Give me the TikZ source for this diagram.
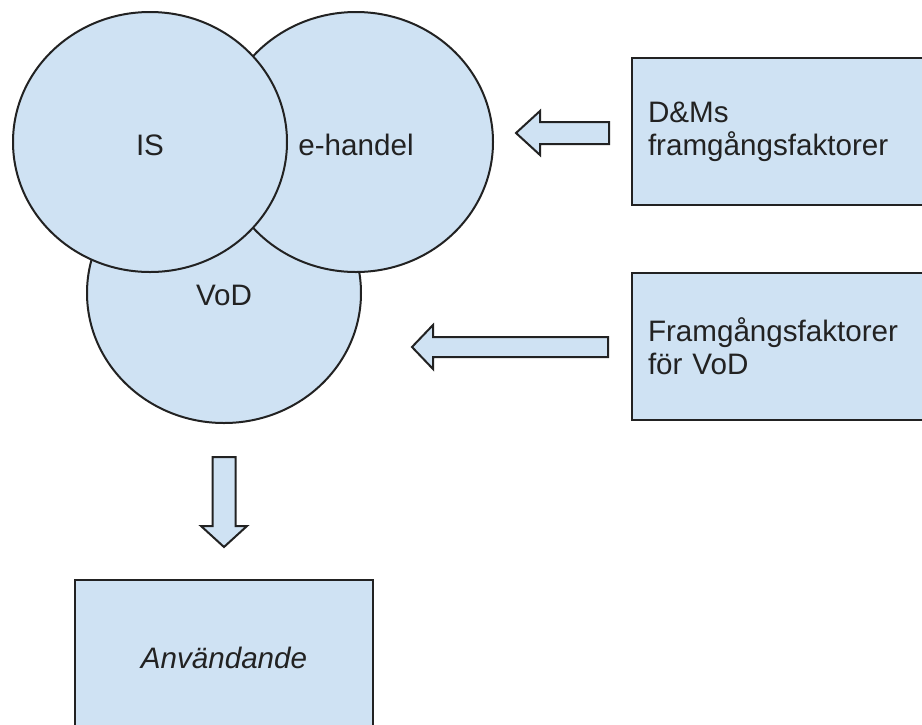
\documentclass[tikz,border=0pt]{standalone}
\usepackage{fontspec}
\setmainfont{Liberation Sans}
\usetikzlibrary{shapes.geometric}
\definecolor{fillblue}{HTML}{CFE2F3}
\definecolor{strokec}{HTML}{222222}
\definecolor{textc}{HTML}{222222}
\tikzset{
  venn/.style={ellipse, draw=strokec, fill=fillblue, line width=2pt,
    minimum width=274pt, minimum height=260pt, inner sep=0pt,
    font=\fontsize{29.6}{33}\selectfont, text=textc},
  infobox/.style={rectangle, draw=strokec, fill=fillblue, line width=2pt,
    minimum height=147pt, text width=270pt, inner xsep=16pt, inner ysep=0pt,
    align=left, anchor=west, font=\fontsize{29.6}{33}\selectfont, text=textc},
  blockarrow/.style={draw=strokec, fill=fillblue, line width=2pt, line join=miter}
}
\begin{document}
\begin{tikzpicture}[x=1pt,y=-1pt]
\useasboundingbox (0,0) rectangle (922,724);
\fill[white] (0,0) rectangle (922,724);
\clip (0,0) rectangle (922,724);
% Venn ellipses
\node[venn] (vod) at (224,293) {};
\node[venn] (eh) at (356,142) {};
\node[venn] (is) at (150,142) {};
\node[text=textc, font=\fontsize{29.6}{33}\selectfont] (isl) at (150,145) {IS};
\node[text=textc, font=\fontsize{29.6}{33}\selectfont] (ehl) at (356,145) {e-handel};
\node[text=textc, font=\fontsize{29.6}{33}\selectfont] (vodl) at (224,295) {VoD};
% boxes
\node[infobox] (dm) at (631,131.5) {D\&Ms\\framgångsfaktorer};
\node[infobox] (fv) at (631,346.5) {Framgångsfaktorer\\för VoD};
\node[rectangle, draw=strokec, fill=fillblue, line width=2pt,
  minimum width=298pt, minimum height=156pt, text=textc,
  font=\fontsize{29.6}{33}\selectfont\itshape] (anv) at (224,658) {Användande};
% block arrows
\coordinate (a1tip) at (516,133);
\draw[blockarrow] (a1tip) -- (540,111) -- (540,122) -- (609,122) -- (609,144) -- (540,144) -- (540,155) -- cycle;
\coordinate (a2tip) at (412,347);
\draw[blockarrow] (a2tip) -- (433,325) -- (433,337) -- (608,337) -- (608,357) -- (433,357) -- (433,369) -- cycle;
\coordinate (a3tip) at (224,547);
\draw[blockarrow] (a3tip) -- (201,526) -- (212.5,526) -- (212.5,457) -- (235.5,457) -- (235.5,526) -- (247,526) -- cycle;
\end{tikzpicture}
\end{document}
